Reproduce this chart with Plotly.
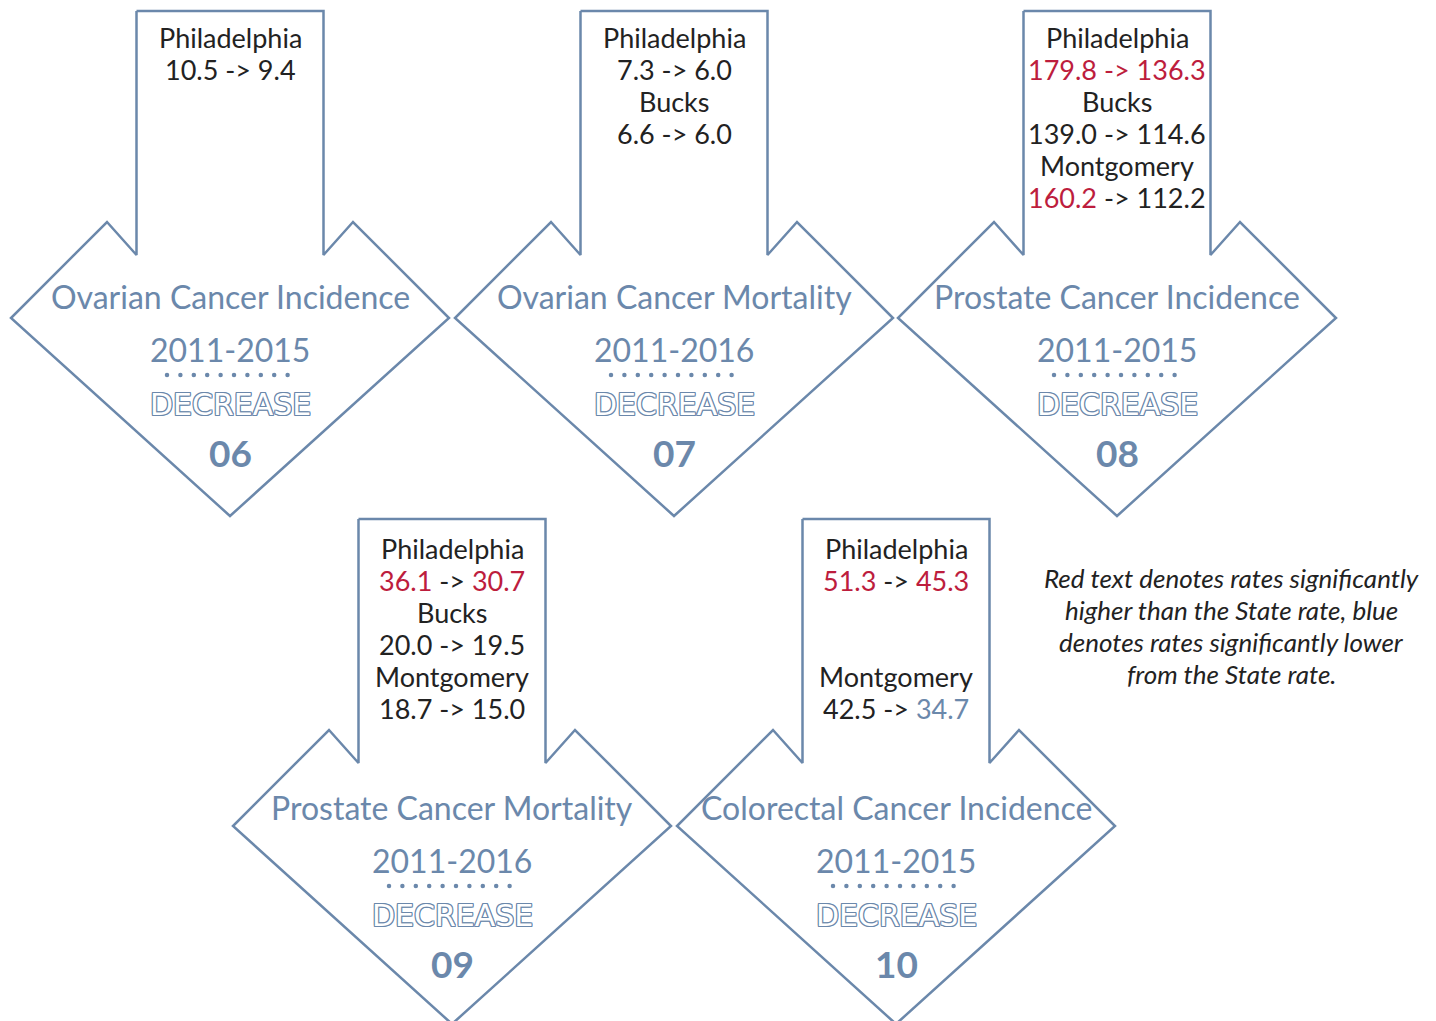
import plotly.graph_objs as go

# --- data ---------------------------------------------------------------
titles = [
    "Ovarian Cancer Incidence",
    "Ovarian Cancer Mortality",
    "Prostate Cancer Incidence",
    "Prostate Cancer Mortality",
    "Colorectal Cancer Incidence",
]
periods = ["2011-2015", "2011-2016", "2011-2015", "2011-2016", "2011-2015"]
numbers = ["06", "07", "08", "09", "10"]
trend = "DECREASE"

# county lines inside each arrow stem (None = empty slot)
counties = [
    ["Philadelphia"],
    ["Philadelphia", "Bucks"],
    ["Philadelphia", "Bucks", "Montgomery"],
    ["Philadelphia", "Bucks", "Montgomery"],
    ["Philadelphia", None, "Montgomery"],
]
rate_before = [
    [10.5],
    [7.3, 6.6],
    [179.8, 139.0, 160.2],
    [36.1, 20.0, 18.7],
    [51.3, None, 42.5],
]
rate_after = [
    [9.4],
    [6.0, 6.0],
    [136.3, 114.6, 112.2],
    [30.7, 19.5, 15.0],
    [45.3, None, 34.7],
]
# significance vs. State rate: "high" -> red, "low" -> blue, "" -> plain
sig_before = [
    [""],
    ["", ""],
    ["high", "", "high"],
    ["high", "", ""],
    ["high", "", ""],
]
sig_after = [
    [""],
    ["", ""],
    ["high", "", ""],
    ["high", "", ""],
    ["high", "", "low"],
]
footnote_lines = [
    "Red text denotes rates significantly",
    "higher than the State rate, blue",
    "denotes rates significantly lower",
    "from the State rate.",
]

# --- layout constants ---------------------------------------------------
W, H = 1436, 1021
OFF = 8  # page body margin
BLUE = "#6b88ab"
RED = "#bd1d3d"
INK = "#222222"
FONT = "Lato"

# (arrow centre x, shape top y, text top y)
centers = [(230, 11, 11), (674, 11, 11), (1117, 11, 11), (452, 519, 522), (896, 519, 522)]


def arrow_outline(cx, ty):
    xs = [cx - 93.5, cx + 93.5, cx + 93.5, cx + 123, cx + 219, cx, cx - 219,
          cx - 123, cx - 93.5, cx - 93.5]
    ys = [ty, ty, ty + 244, ty + 211, ty + 307, ty + 505, ty + 307, ty + 211,
          ty + 244, ty]
    return xs, ys


def colour(value, flag):
    txt = f"{value:.1f}"
    if flag == "high":
        return f"<span style='color:{RED}'>{txt}</span>"
    if flag == "low":
        return f"<span style='color:{BLUE}'>{txt}</span>"
    return txt


outline = ", ".join(f"{dx}px {dy}px {BLUE}" for dx, dy in
                    [(1, 0), (-1, 0), (0, 1), (0, -1), (1, 1), (-1, -1), (1, -1), (-1, 1)])

fig = go.Figure()
annotations = []

for i, (cx, ty, tt) in enumerate(centers):
    xs, ys = arrow_outline(cx, ty)
    fig.add_trace(go.Scatter(x=xs, y=ys, mode="lines",
                             line=dict(color=BLUE, width=2.5),
                             hoverinfo="skip", showlegend=False))

    # stem text
    lines = []
    for name, b, a, sb, sa in zip(counties[i], rate_before[i], rate_after[i],
                                  sig_before[i], sig_after[i]):
        if name is None:
            lines += ["", ""]
            continue
        arrow = "->"
        if sb == "high" and sa == "high" and i == 2:
            arrow = f"<span style='color:{RED}'>-></span>"
        lines += [name, f"{colour(b, sb)} {arrow} {colour(a, sa)}"]
    for k, ln in enumerate(lines):
        if ln:
            annotations.append(dict(x=cx, y=tt + 26 + 32 * k, text=ln,
                                    font=dict(family=FONT, size=27, color=INK)))

    annotations.append(dict(x=cx, y=tt + 285, text=titles[i],
                            font=dict(family=FONT, size=32, color=BLUE)))
    annotations.append(dict(x=cx, y=tt + 338, text=periods[i],
                            font=dict(family=FONT, size=32, color=BLUE)))
    annotations.append(dict(x=cx, y=tt + 393, text=trend,
                            font=dict(family="DejaVu Sans", size=30, color="white",
                                      shadow=outline)))
    annotations.append(dict(x=cx, y=tt + 441, text=numbers[i],
                            font=dict(family=FONT, size=37, color=BLUE, weight="bold")))

    # dotted separator
    fig.add_trace(go.Scatter(x=[cx - 63 + 13.4 * d for d in range(10)],
                             y=[tt + 364] * 10, mode="markers",
                             marker=dict(color=BLUE, size=4.5),
                             hoverinfo="skip", showlegend=False))

for k, ln in enumerate(footnote_lines):
    annotations.append(dict(x=1231, y=578 + 32 * k, text=ln,
                            font=dict(family=FONT, size=26, color=INK, style="italic")))

for a in annotations:
    a.update(xref="x", yref="y", showarrow=False, xanchor="center", yanchor="middle")

fig.update_layout(
    width=W, height=H,
    margin=dict(l=0, r=0, t=0, b=0),
    paper_bgcolor="white", plot_bgcolor="white",
    xaxis=dict(range=[OFF, W + OFF], visible=False, fixedrange=True),
    yaxis=dict(range=[H + OFF, OFF], visible=False, fixedrange=True),
    annotations=annotations,
)

fig.write_html("out.html")
